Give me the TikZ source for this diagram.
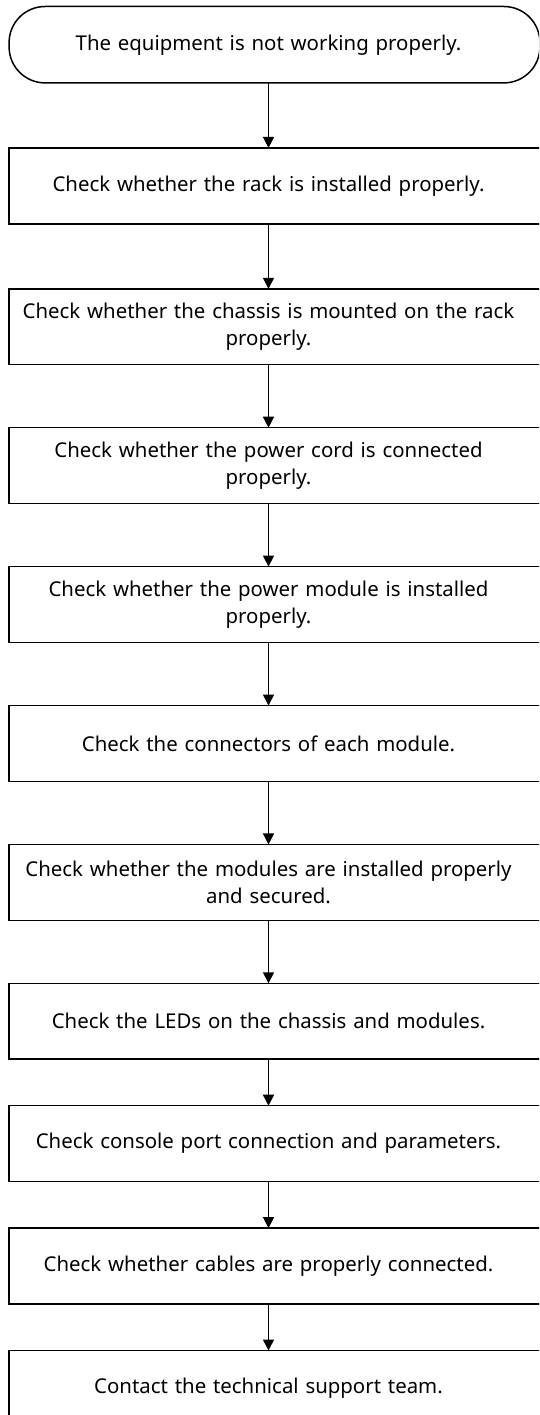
\documentclass[tikz,border=0pt]{standalone}
\usepackage{fontspec}
\setmainfont{Noto Sans}
\usetikzlibrary{arrows.meta,positioning}
\tikzset{%
  arrow/.style={line width=1.5pt,-{Triangle[width=11pt,length=11pt]}},
  stepbox/.style={minimum width=518.4pt,minimum height=75.5pt,text width=510pt,align=center,inner sep=0pt,font=\fontsize{20.4}{26.6}\selectfont},
  frame/.style={line width=1.5pt},
}

\begin{document}
\begin{tikzpicture}[node distance=63pt]
      \clip (0,0) rectangle (539pt,-1415pt);
      \node[stepbox,minimum height=76pt] (start) at (268.5pt,-44.7pt) {The equipment is not working properly.};
      \node[stepbox,below=65pt of start] (rack) {Check whether the rack is installed properly.};
      \node[stepbox,below=65pt of rack] (chassis) {Check whether the chassis is mounted on the rack\\properly.};
      \node[stepbox,below=of chassis] (cord) {Check whether the power cord is connected\\properly.};
      \node[stepbox,below=of cord] (power) {Check whether the power module is installed\\properly.};
      \node[stepbox,below=of power] (connectors) {Check the connectors of each module.};
      \node[stepbox,below=of connectors] (modules) {Check whether the modules are installed properly\\and secured.};
      \node[stepbox,below=of modules] (leds) {Check the LEDs on the chassis and modules.};
      \node[stepbox,below=46.5pt of leds] (console) {Check console port connection and parameters.};
      \node[stepbox,below=46.5pt of console] (cables) {Check whether cables are properly connected.};
      \node[stepbox,below=46.5pt of cables] (support) {Contact the technical support team.};

      \draw[frame,rounded corners=36pt] (start.north west) rectangle ([xshift=12pt]start.south east);
      \foreach \n in {rack,chassis,cord,power,connectors,modules,leds,console,cables,support}
        \draw[frame] (\n.north west) rectangle ([xshift=30pt]\n.south east);

      \draw[arrow] (start) -- (rack);
      \draw[arrow] (rack) -- (chassis);
      \draw[arrow] (chassis) -- (cord);
      \draw[arrow] (cord) -- (power);
      \draw[arrow] (power) -- (connectors);
      \draw[arrow] (connectors) -- (modules);
      \draw[arrow] (modules) -- (leds);
      \draw[arrow] (leds) -- (console);
      \draw[arrow] (console) -- (cables);
      \draw[arrow] (cables) -- (support);
    \end{tikzpicture}
\end{document}
